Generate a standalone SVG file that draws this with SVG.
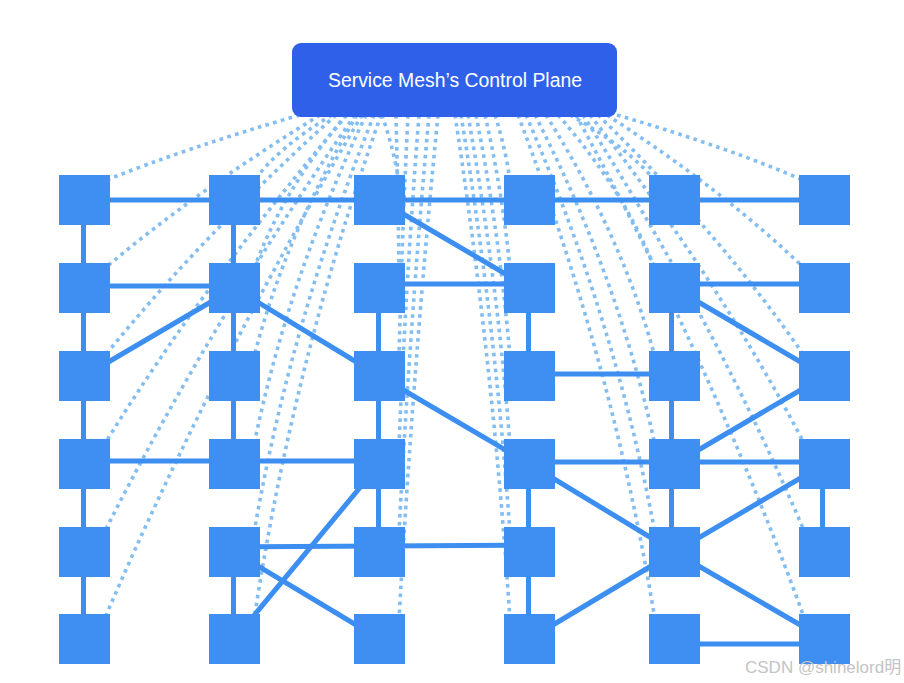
<svg xmlns="http://www.w3.org/2000/svg" width="904" height="683" viewBox="0 0 904 683">
<style>
.dot{fill:none;stroke:#84bef0;stroke-width:3.6;stroke-dasharray:3.6 4.4}
.edge{stroke:#3c8ef0;stroke-width:5;fill:none}
.node{fill:#3e8ff1}
.cp{fill:#2f60ea}
.cpt{font-family:"Liberation Sans",Arial,sans-serif;font-size:19.4px;fill:#ffffff;text-anchor:middle}
.wm{font-family:"Liberation Sans","Noto Sans CJK SC",sans-serif;font-size:17px;fill:#c4c4c4}
</style>
<rect width="904" height="683" fill="#ffffff"/>
<g id="dotted-connectors">
<path class="dot" d="M300 115Q186.3 148 104 181"/>
<path class="dot" d="M320 115Q194.7 192 104 269"/>
<path class="dot" d="M336 115Q201.4 236 104 357"/>
<path class="dot" d="M347 115Q206.1 280 104 445"/>
<path class="dot" d="M355 115Q209.4 324 104 533"/>
<path class="dot" d="M362 115Q212.4 367.5 104 620"/>
<path class="dot" d="M332 115Q277.4 148 254 181"/>
<path class="dot" d="M346 115Q281.6 192 254 269"/>
<path class="dot" d="M357 115Q284.9 236 254 357"/>
<path class="dot" d="M366 115Q287.6 280 254 445"/>
<path class="dot" d="M374 115Q290 324 254 533"/>
<path class="dot" d="M381 115Q292.1 367.5 254 620"/>
<path class="dot" d="M382 115Q393.3 148 399 181"/>
<path class="dot" d="M396 115Q398 192 399 269"/>
<path class="dot" d="M408 115Q402 236 399 357"/>
<path class="dot" d="M419 115Q406 280 399 445"/>
<path class="dot" d="M429 115Q410 324 399 533"/>
<path class="dot" d="M438 115Q413 367.5 399 620"/>
<path class="dot" d="M495 115Q505.5 148 510 181"/>
<path class="dot" d="M485 115Q502.5 192 510 269"/>
<path class="dot" d="M476 115Q499.8 236 510 357"/>
<path class="dot" d="M468 115Q497.4 280 510 445"/>
<path class="dot" d="M461 115Q495.3 324 510 533"/>
<path class="dot" d="M455 115Q493.5 367.5 510 620"/>
<path class="dot" d="M570 115Q628.9 148 655 181"/>
<path class="dot" d="M558 115Q625.3 192 655 269"/>
<path class="dot" d="M546 115Q622 236 655 357"/>
<path class="dot" d="M535 115Q619 280 655 445"/>
<path class="dot" d="M526 115Q616.3 324 655 533"/>
<path class="dot" d="M518 115Q613.9 367.5 655 620"/>
<path class="dot" d="M617 115Q729.8 148 805 181"/>
<path class="dot" d="M607 115Q725.8 192 805 269"/>
<path class="dot" d="M598 115Q722.2 236 805 357"/>
<path class="dot" d="M590 115Q719 280 805 445"/>
<path class="dot" d="M583 115Q716.2 324 805 533"/>
<path class="dot" d="M576 115Q713.4 367.5 805 620"/>
</g>
<g id="connectors">
<line class="edge" x1="84.5" y1="200" x2="824.5" y2="200"/>
<line class="edge" x1="84.5" y1="286" x2="234.5" y2="286"/>
<line class="edge" x1="379.5" y1="284" x2="529.5" y2="284"/>
<line class="edge" x1="674.5" y1="284" x2="824.5" y2="284"/>
<line class="edge" x1="529.5" y1="374" x2="674.5" y2="374"/>
<line class="edge" x1="84.5" y1="461" x2="379.5" y2="461"/>
<line class="edge" x1="529.5" y1="462" x2="824.5" y2="462"/>
<line class="edge" x1="234.5" y1="547" x2="529.5" y2="545"/>
<line class="edge" x1="674.5" y1="644" x2="824.5" y2="644"/>
<line class="edge" x1="83.5" y1="200" x2="83.5" y2="639"/>
<line class="edge" x1="233.5" y1="200" x2="233.5" y2="464"/>
<line class="edge" x1="233.5" y1="552" x2="233.5" y2="639"/>
<line class="edge" x1="378.5" y1="288" x2="378.5" y2="552"/>
<line class="edge" x1="528.5" y1="288" x2="528.5" y2="376"/>
<line class="edge" x1="528.5" y1="464" x2="528.5" y2="639"/>
<line class="edge" x1="671.5" y1="288" x2="671.5" y2="552"/>
<line class="edge" x1="822.5" y1="464" x2="822.5" y2="552"/>
<line class="edge" x1="84.5" y1="376" x2="234.5" y2="288"/>
<line class="edge" x1="234.5" y1="288" x2="379.5" y2="376"/>
<line class="edge" x1="379.5" y1="200" x2="529.5" y2="288"/>
<line class="edge" x1="379.5" y1="376" x2="529.5" y2="464"/>
<line class="edge" x1="674.5" y1="288" x2="824.5" y2="376"/>
<line class="edge" x1="824.5" y1="376" x2="674.5" y2="464"/>
<line class="edge" x1="529.5" y1="464" x2="674.5" y2="552"/>
<line class="edge" x1="824.5" y1="464" x2="674.5" y2="552"/>
<line class="edge" x1="529.5" y1="639" x2="674.5" y2="552"/>
<line class="edge" x1="674.5" y1="552" x2="824.5" y2="639"/>
<line class="edge" x1="234.5" y1="552" x2="379.5" y2="639"/>
<line class="edge" x1="234.5" y1="639" x2="379.5" y2="464"/>
</g>
<g id="control-plane">
<rect class="cp" x="292" y="43" width="325" height="74" rx="9"/>
<text class="cpt" x="455" y="87">Service Mesh’s Control Plane</text>
</g>
<g id="n11"><rect class="node" x="59" y="175" width="51" height="50"/></g>
<g id="n12"><rect class="node" x="209" y="175" width="51" height="50"/></g>
<g id="n13"><rect class="node" x="354" y="175" width="51" height="50"/></g>
<g id="n14"><rect class="node" x="504" y="175" width="51" height="50"/></g>
<g id="n15"><rect class="node" x="649" y="175" width="51" height="50"/></g>
<g id="n16"><rect class="node" x="799" y="175" width="51" height="50"/></g>
<g id="n21"><rect class="node" x="59" y="263" width="51" height="50"/></g>
<g id="n22"><rect class="node" x="209" y="263" width="51" height="50"/></g>
<g id="n23"><rect class="node" x="354" y="263" width="51" height="50"/></g>
<g id="n24"><rect class="node" x="504" y="263" width="51" height="50"/></g>
<g id="n25"><rect class="node" x="649" y="263" width="51" height="50"/></g>
<g id="n26"><rect class="node" x="799" y="263" width="51" height="50"/></g>
<g id="n31"><rect class="node" x="59" y="351" width="51" height="50"/></g>
<g id="n32"><rect class="node" x="209" y="351" width="51" height="50"/></g>
<g id="n33"><rect class="node" x="354" y="351" width="51" height="50"/></g>
<g id="n34"><rect class="node" x="504" y="351" width="51" height="50"/></g>
<g id="n35"><rect class="node" x="649" y="351" width="51" height="50"/></g>
<g id="n36"><rect class="node" x="799" y="351" width="51" height="50"/></g>
<g id="n41"><rect class="node" x="59" y="439" width="51" height="50"/></g>
<g id="n42"><rect class="node" x="209" y="439" width="51" height="50"/></g>
<g id="n43"><rect class="node" x="354" y="439" width="51" height="50"/></g>
<g id="n44"><rect class="node" x="504" y="439" width="51" height="50"/></g>
<g id="n45"><rect class="node" x="649" y="439" width="51" height="50"/></g>
<g id="n46"><rect class="node" x="799" y="439" width="51" height="50"/></g>
<g id="n51"><rect class="node" x="59" y="527" width="51" height="50"/></g>
<g id="n52"><rect class="node" x="209" y="527" width="51" height="50"/></g>
<g id="n53"><rect class="node" x="354" y="527" width="51" height="50"/></g>
<g id="n54"><rect class="node" x="504" y="527" width="51" height="50"/></g>
<g id="n55"><rect class="node" x="649" y="527" width="51" height="50"/></g>
<g id="n56"><rect class="node" x="799" y="527" width="51" height="50"/></g>
<g id="n61"><rect class="node" x="59" y="614" width="51" height="50"/></g>
<g id="n62"><rect class="node" x="209" y="614" width="51" height="50"/></g>
<g id="n63"><rect class="node" x="354" y="614" width="51" height="50"/></g>
<g id="n64"><rect class="node" x="504" y="614" width="51" height="50"/></g>
<g id="n65"><rect class="node" x="649" y="614" width="51" height="50"/></g>
<g id="n66"><rect class="node" x="799" y="614" width="51" height="50"/></g>
<text class="wm" x="745" y="673">CSDN @shinelord明</text>
</svg>
